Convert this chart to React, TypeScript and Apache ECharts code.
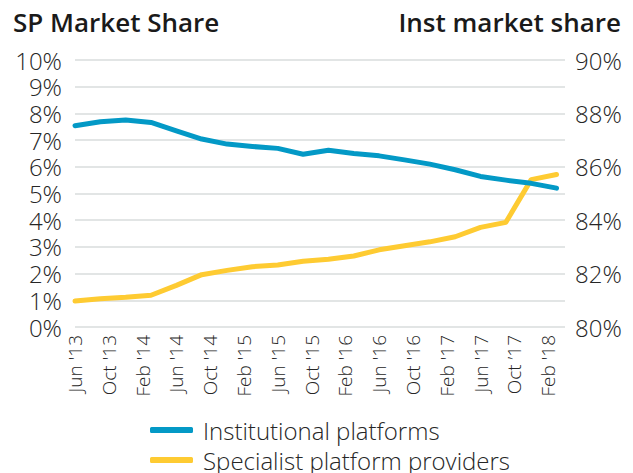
import React, { useEffect, useRef } from "react";
import * as echarts from "echarts";

// Quarterly observations (year-month)
const quarterDates = [
  "2013-06", "2013-09", "2013-12", "2014-03", "2014-06", "2014-09", "2014-12",
  "2015-03", "2015-06", "2015-09", "2015-12", "2016-03", "2016-06", "2016-09",
  "2016-12", "2017-03", "2017-06", "2017-09", "2017-12", "2018-03",
];

// Institutional platforms market share (%), right axis
const institutional = [
  87.54, 87.69, 87.75, 87.66, 87.35, 87.04, 86.85, 86.76, 86.69, 86.47,
  86.62, 86.5, 86.41, 86.26, 86.1, 85.89, 85.64, 85.5, 85.38, 85.2,
];

// Specialist platform providers market share (%), left axis
const specialist = [
  0.97, 1.06, 1.11, 1.19, 1.56, 1.96, 2.12, 2.26, 2.32, 2.46,
  2.54, 2.66, 2.89, 3.04, 3.19, 3.38, 3.73, 3.92, 5.52, 5.71,
];

// X tick labels, every 4 months starting Jun 2013
const tickLabels = [
  "Jun '13", "Oct '13", "Feb '14", "Jun '14", "Oct '14", "Feb '15", "Jun '15",
  "Oct '15", "Feb '16", "Jun '16", "Oct '16", "Feb '17", "Jun '17", "Oct \u201917", "Feb '18",
];

const seriesNames = ["Institutional platforms", "Specialist platform providers"];

const START = quarterDates[0];
const monthOffset = (d: string) => {
  const [y, m] = d.split("-").map(Number);
  const [y0, m0] = START.split("-").map(Number);
  return (y - y0) * 12 + (m - m0);
};

const FONT = "'Open Sans', 'Noto Sans', sans-serif";
const BLUE = "#0399c6";
const YELLOW = "#fecb32";
const TEXT = "#262626";

const legendBase = (name: string, top: number) => ({
  orient: "vertical",
  left: 150,
  top,
  padding: 0,
  icon: "roundRect",
  itemWidth: 43,
  itemHeight: 6,
  data: [name],
  textStyle: {
    fontFamily: FONT,
    fontSize: 24,
    fontWeight: 300,
    lineHeight: 22,
    color: TEXT,
    padding: [0, 0, 0, 5],
  },
});

export default function App() {
  const ref = useRef<HTMLDivElement>(null);
  useEffect(() => {
    if (!ref.current) return;
    const chart = echarts.init(ref.current, undefined, { renderer: "svg" });
    const xs = quarterDates.map(monthOffset);
    chart.setOption({
      animation: false,
      backgroundColor: "#ffffff",
      textStyle: { fontFamily: FONT },
      title: [
        {
          text: "SP Market Share",
          left: 13,
          top: 9,
          padding: 0,
          textStyle: { fontFamily: FONT, fontSize: 26, fontWeight: 600, color: "#1a1a1a" },
        },
        {
          text: "Inst market share",
          right: 12,
          top: 9,
          padding: 0,
          textStyle: { fontFamily: FONT, fontSize: 26, fontWeight: 600, color: "#1a1a1a" },
        },
      ],
      grid: { left: 75, right: 68, top: 60, bottom: 146 },
      legend: [legendBase(seriesNames[0], 418), legendBase(seriesNames[1], 448)],
      xAxis: {
        type: "value",
        min: 0,
        max: 58,
        interval: 4,
        axisLine: { show: false },
        axisTick: { show: false },
        splitLine: { show: false },
        axisLabel: {
          rotate: 90,
          margin: 8,
          fontFamily: FONT,
          fontSize: 19,
          fontWeight: 300,
          lineHeight: 20,
          color: TEXT,
          showMaxLabel: false,
          formatter: (v: number) => (v % 4 === 0 ? tickLabels[v / 4] ?? "" : ""),
        },
      },
      yAxis: [
        {
          type: "value",
          min: 0,
          max: 10,
          interval: 1,
          axisLine: { show: false },
          axisTick: { show: false },
          splitLine: { show: true, lineStyle: { color: "#d9dddd", width: 1.5 } },
          axisLabel: {
            margin: 13,
            fontFamily: FONT,
            fontSize: 24,
            fontWeight: 300,
            lineHeight: 22,
            color: TEXT,
            formatter: "{value}%",
          },
        },
        {
          type: "value",
          min: 80,
          max: 90,
          interval: 2,
          axisLine: { show: false },
          axisTick: { show: false },
          splitLine: { show: false },
          axisLabel: {
            margin: 10,
            fontFamily: FONT,
            fontSize: 24,
            fontWeight: 300,
            lineHeight: 22,
            color: TEXT,
            formatter: "{value}%",
          },
        },
      ],
      series: [
        {
          name: seriesNames[1],
          type: "line",
          yAxisIndex: 0,
          showSymbol: false,
          symbol: "none",
          z: 2,
          color: YELLOW,
          lineStyle: { width: 5, color: YELLOW, cap: "round", join: "round" },
          data: xs.map((x, i) => [x, specialist[i]]),
        },
        {
          name: seriesNames[0],
          type: "line",
          yAxisIndex: 1,
          showSymbol: false,
          symbol: "none",
          z: 3,
          color: BLUE,
          lineStyle: { width: 5, color: BLUE, cap: "round", join: "round" },
          data: xs.map((x, i) => [x, institutional[i]]),
        },
      ],
    });
    return () => chart.dispose();
  }, []);
  return (
    <div
      ref={ref}
      style={{ position: "fixed", left: 0, top: 0, width: 633, height: 473 }}
    />
  );
}
